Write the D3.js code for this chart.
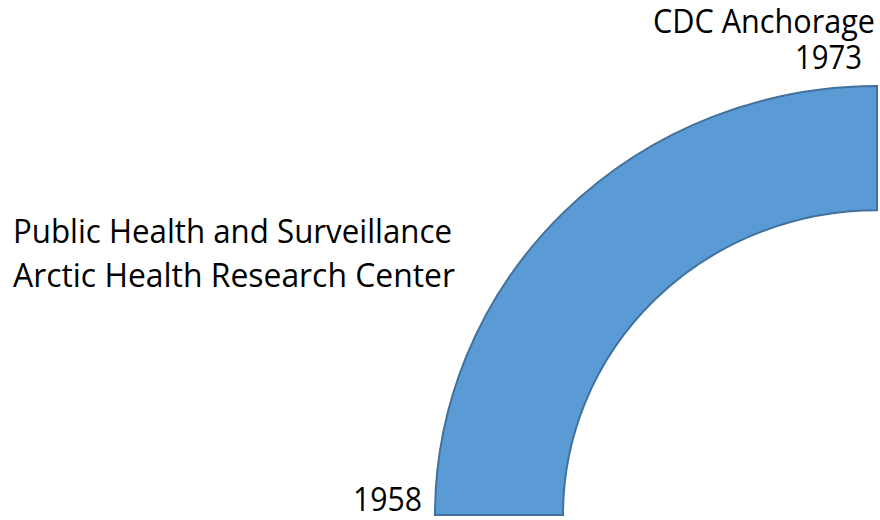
<!DOCTYPE html>
<html>
<head>
<meta charset="utf-8">
<script src="https://cdn.jsdelivr.net/npm/d3@7"></script>
<style>
  body { margin: 0; background: #fff; }
  text { font-family: "Open Sans", "Noto Sans", sans-serif; font-size: 32px; fill: #000; }
</style>
</head>
<body>
<svg width="880" height="520"></svg>
<script>
// timeline from start year to end year, drawn as a quarter ring
const years = [1958, 1973];
const leftLines = ['Public Health and Surveillance', 'Arctic Health Research Center'];
const endLabel = 'CDC Anchorage';

const svg = d3.select('svg');

const cx = 877;
const cy = 515;
const outerR = 442;
const innerR = 314;
const squash = 429 / 442;

// years -> angle
const angle = d3.scaleLinear()
    .domain(years)
    .range([-Math.PI / 2, 0]);

const ringG = svg.append('g')
    .attr('transform', `translate(${cx},${cy}) scale(1,${squash})`);

ringG.append('path')
    .attr('d', d3.arc()({
        innerRadius: innerR,
        outerRadius: outerR,
        startAngle: angle(years[0]),
        endAngle: angle(years[1])
    }))
    .attr('fill', '#5B9BD5')
    .attr('stroke', '#41719C')
    .attr('stroke-width', 2)
    .attr('vector-effect', 'non-scaling-stroke');

// left labels
const leftG = svg.append('g');
leftG.selectAll('text')
    .data(leftLines)
    .join('text')
    .attr('x', 13)
    .attr('y', (d, i) => 243 + i * 44)
    .attr('textLength', (d, i) => [439, 442][i])
    .attr('lengthAdjust', 'spacingAndGlyphs')
    .text(d => d);

// end labels
svg.append('text')
    .attr('x', 875)
    .attr('y', 33)
    .attr('text-anchor', 'end')
    .attr('textLength', 222)
    .attr('lengthAdjust', 'spacingAndGlyphs')
    .text(endLabel);

svg.append('text')
    .attr('x', 862)
    .attr('y', 69)
    .attr('text-anchor', 'end')
    .attr('textLength', 67)
    .attr('lengthAdjust', 'spacingAndGlyphs')
    .text(years[1]);

// start label
svg.append('text')
    .attr('x', 422)
    .attr('y', 511)
    .attr('text-anchor', 'end')
    .attr('textLength', 69)
    .attr('lengthAdjust', 'spacingAndGlyphs')
    .text(years[0]);
</script>
</body>
</html>
